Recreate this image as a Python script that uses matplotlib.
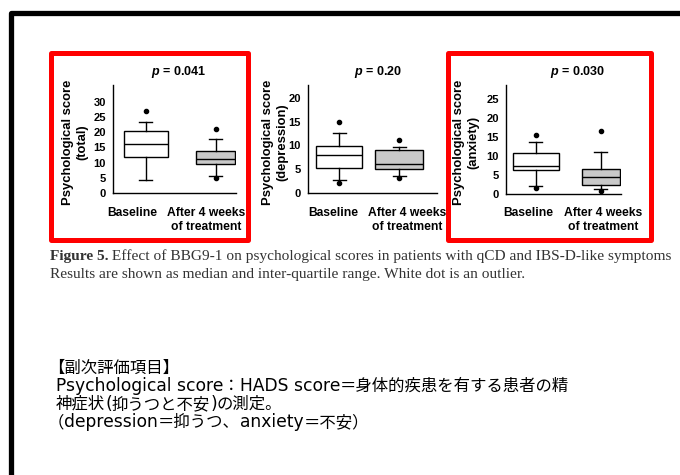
import matplotlib
matplotlib.use("Agg")
import matplotlib.pyplot as plt
from matplotlib.lines import Line2D
from matplotlib.patches import Rectangle

W, H = 680, 475

plt.rcParams["font.family"] = "Liberation Sans"
plt.rcParams["mathtext.fontset"] = "custom"
plt.rcParams["mathtext.it"] = "Liberation Sans:italic:bold"

# --- data (Baseline, After 4 weeks) ---
categories = ["Baseline", "After 4 weeks\nof treatment"]
box_colors = ["white", "#c9c9c9"]

total_q1 = [11.9, 9.6]
total_med = [16.2, 11.2]
total_q3 = [20.5, 13.9]
total_whislo = [4.3, 5.6]
total_whishi = [23.4, 17.8]
total_fliers = [[27.0], [21.0, 5.0]]
total_yticks = [0, 5, 10, 15, 20, 25, 30]

depression_q1 = [5.3, 5.1]
depression_med = [8.0, 6.1]
depression_q3 = [9.9, 9.1]
depression_whislo = [2.7, 3.6]
depression_whishi = [12.6, 9.7]
depression_fliers = [[15.0, 2.1], [11.2, 3.2]]
depression_yticks = [0, 5, 10, 15, 20]

anxiety_q1 = [6.3, 2.3]
anxiety_med = [7.2, 4.4]
anxiety_q3 = [10.7, 6.5]
anxiety_whislo = [2.0, 1.1]
anxiety_whishi = [13.5, 11.0]
anxiety_fliers = [[15.5, 1.5], [16.6, 0.7]]
anxiety_yticks = [0, 5, 10, 15, 20, 25]

panel_labels = ["total", "depression", "anxiety"]
p_values = ["0.041", "0.20", "0.030"]

caption_runs = [
    [("Figure 5.", "capb"), (" Effect of BBG9-1 on psychological scores in patients with qCD and IBS-D-like symptoms", "cap")],
    [("Results are shown as median and inter-quartile range. White dot is an outlier.", "cap")],
]
note_runs = [
    [("【副次評価項目】", "cjk")],
    [("Psychological score", "lat"), ("：", "cjk"), ("HADS score", "lat"), ("＝身体的疾患を有する患者の精", "cjk")],
    [("神症状", "cjk"), ("(", "lat"), ("抑うつと不安", "cjk"), (")", "lat"), ("の測定。", "cjk")],
    [("（", "cjk"), ("depression", "lat"), ("＝抑うつ、", "cjk"), ("anxiety", "lat"), ("＝不安）", "cjk")],
]

# --- layout (pixels) ---
panels = [
    dict(rect=(113, 85, 236, 193), xlim=(0.53, 2.29), ylim=(0, 35.6), widths=[0.63, 0.56],
         caps=0.19, label_x=[0.81, 1.86], ylab_x=-0.2, title_x=0.53),
    dict(rect=(308, 85, 437, 193), xlim=(0.48, 2.63), ylim=(0, 22.7), widths=[0.77, 0.8],
         caps=0.22, label_x=[0.9, 2.13], ylab_x=-0.155, title_x=0.54),
    dict(rect=(506, 85, 621, 193.5), xlim=(0.54, 2.31), ylim=(0, 28.6), widths=[0.71, 0.58],
         caps=0.2, label_x=[0.89, 2.03], ylab_x=-0.235, title_x=0.62),
]

FONTS = {
    "cap": dict(family="Liberation Serif", size=11.1, color="#333333"),
    "capb": dict(family="Liberation Serif", size=11.1, color="#333333", weight="bold"),
    "lat": dict(family="DejaVu Sans", size=12.3, color="black"),
    "cjk": dict(family="Noto Sans CJK JP", size=11.8, color="black"),
}


def px_rect(l, t, r, b):
    return [l / W, 1 - b / H, (r - l) / W, (b - t) / H]


def draw_runs(fig, x, y, runs):
    renderer = fig.canvas.get_renderer()
    for s, kind in runs:
        t = fig.text(x / W, 1 - y / H, s, va="baseline", ha="left", **FONTS[kind])
        x += t.get_window_extent(renderer).width


fig = plt.figure(figsize=(W / 100, H / 100), dpi=100, facecolor="white")

series = [
    (total_q1, total_med, total_q3, total_whislo, total_whishi, total_fliers, total_yticks),
    (depression_q1, depression_med, depression_q3, depression_whislo, depression_whishi, depression_fliers, depression_yticks),
    (anxiety_q1, anxiety_med, anxiety_q3, anxiety_whislo, anxiety_whishi, anxiety_fliers, anxiety_yticks),
]

for lay, (q1, med, q3, lo, hi, fl, yt), name, pv in zip(panels, series, panel_labels, p_values):
    ax = fig.add_axes(px_rect(*lay["rect"]))
    stats = [dict(q1=q1[i], med=med[i], q3=q3[i], whislo=lo[i], whishi=hi[i], fliers=fl[i]) for i in range(2)]
    bp = ax.bxp(stats, positions=[1, 2], widths=lay["widths"], capwidths=lay["caps"],
                patch_artist=True, manage_ticks=False,
                boxprops=dict(linewidth=1.0, edgecolor="black"),
                medianprops=dict(color="black", linewidth=1.0),
                whiskerprops=dict(color="black", linewidth=1.0),
                capprops=dict(color="black", linewidth=1.0),
                flierprops=dict(marker="o", markersize=3, markerfacecolor="black",
                                markeredgecolor="black"))
    for patch, fc in zip(bp["boxes"], box_colors):
        patch.set_facecolor(fc)
    ax.set_xlim(*lay["xlim"])
    ax.set_ylim(*lay["ylim"])
    ax.set_yticks(yt)
    ax.set_xticks(lay["label_x"])
    ax.set_xticklabels(categories, fontsize=8.7, fontweight="bold", linespacing=1.2)
    for lab in ax.get_yticklabels():
        lab.set_fontweight("bold")
    ax.tick_params(axis="y", length=0, labelsize=8, pad=5)
    ax.tick_params(axis="x", length=0, pad=10)
    for side in ("top", "right"):
        ax.spines[side].set_visible(False)
    for side in ("left", "bottom"):
        ax.spines[side].set_linewidth(1.0)
    ax.set_ylabel(f"Psychological score\n({name})", fontsize=9.4, fontweight="bold", linespacing=1.25)
    ax.yaxis.set_label_coords(lay["ylab_x"], 0.47)
    ax.text(lay["title_x"], 1.12, f"$p$ = {pv}", transform=ax.transAxes, ha="center",
            va="center", fontsize=9, fontweight="bold")

# black frame of the slide
fig.add_artist(Line2D([680 / W, 11 / W, 11 / W], [1 - 13 / H, 1 - 13 / H, 0],
                      transform=fig.transFigure, color="black", lw=3.8,
                      solid_joinstyle="round"))

# red highlight boxes
for l, r in [(50.5, 247.5), (447.5, 650.5)]:
    fig.add_artist(Rectangle((l / W, 1 - 240.5 / H), (r - l) / W, (240.5 - 53) / H,
                             transform=fig.transFigure, fill=False, edgecolor="#ff0000",
                             lw=3.6, joinstyle="round", zorder=5))

for runs, y in zip(caption_runs, [260, 278]):
    draw_runs(fig, 50, y, runs)

for runs, y, x in zip(note_runs, [373, 391, 409, 427], [48, 56, 56, 48]):
    draw_runs(fig, x, y, runs)

fig.savefig("out.png", dpi=100, facecolor="white")
